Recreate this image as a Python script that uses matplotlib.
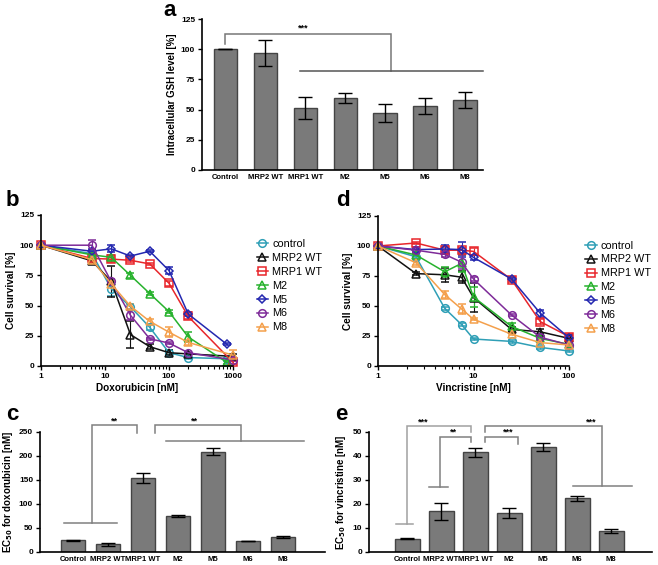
import numpy as np
import matplotlib.pyplot as plt
from matplotlib.ticker import FuncFormatter, LogLocator, NullFormatter

plt.rcParams["font.family"] = ["Liberation Sans", "DejaVu Sans"]
plt.rcParams["mathtext.default"] = "bf"
plt.rcParams["axes.linewidth"] = 1.2

# ---- data ----
groups = ["Control", "MRP2 WT", "MRP1 WT", "M2", "M5", "M6", "M8"]

gsh = [100, 97, 51.5, 59.5, 47.5, 53, 58]
gsh_err = [0, 10.5, 9, 4, 7.5, 7, 6.5]

ec50_doxo = [24, 16, 154, 75, 209, 23, 31]
ec50_doxo_err = [0.5, 3, 10, 2.5, 7, 0.8, 2]

ec50_vinc = [5.5, 17, 41.5, 16.3, 43.8, 22.3, 8.7]
ec50_vinc_err = [0.2, 3.5, 2, 2, 1.8, 1, 0.8]

series = ["control", "MRP2 WT", "MRP1 WT", "M2", "M5", "M6", "M8"]
colors = ["#2f9fb6", "#111111", "#e8262b", "#27b22d", "#2428b0", "#7e2b99", "#f4a04c"]
markers = ["o", "^", "s", "^", "D", "o", "^"]

doxo_800 = [1, 6.25, 12.5, 25, 50, 100, 200, 800]
doxo_1000 = [1, 6.25, 12.5, 25, 50, 100, 200, 1000]
doxo_x = [doxo_800, doxo_1000, doxo_1000, doxo_800, doxo_800, doxo_1000, doxo_1000]
doxo_y = [
    [100, 93, 64, 49, 32, 11, 7, 6],
    [100, 87, 70, 26, 16, 11, 10, 8],
    [100, 89, 88.5, 87.5, 84.5, 68.5, 41, 3],
    [100, 92, 90, 75, 60, 45, 24, 3],
    [100, 95, 97, 91, 95, 79, 43, 18],
    [100, 100, 70, 42, 22.5, 19, 11, 5],
    [100, 88, 68, 49.5, 37, 28, 19.5, 9],
]
doxo_err = [
    [0, 2, 6, 2, 2, 2, 1, 1],
    [0, 2, 13, 11, 2, 2, 1, 2],
    [0, 2, 2, 1, 1, 2, 2, 1],
    [0, 2, 2, 2, 1, 1, 4, 1],
    [0, 2, 3, 1, 1, 3, 2, 1],
    [0, 4, 2, 4, 1, 1, 1, 1],
    [0, 3, 2, 2, 2, 4, 2, 4],
]

vinc_x = [1, 2.5, 5, 7.5, 10, 25, 50, 100]
vinc_y = [
    [100, 91, 48, 34.5, 22.5, 20.5, 15.5, 12.5],
    [100, 77, 76, 74, 57, 30.5, 28.5, 23],
    [100, 102.5, 96.5, 96.5, 95.5, 72, 37, 24.5],
    [100, 92.5, 78.5, 85.5, 57.5, 33, 23, 18],
    [100, 97, 97.5, 97, 90.5, 72.5, 44, 23.5],
    [100, 96.5, 93, 86.5, 72.5, 42.5, 24, 17.5],
    [100, 86, 59.5, 47.5, 39, 26.5, 19.5, 17.5],
]
vinc_err = [
    [0, 1, 1, 1, 1, 1, 1, 1],
    [0, 1, 6, 5, 12, 2, 2, 3],
    [0, 1, 3, 2, 3, 2, 2, 2],
    [0, 1, 4, 7, 8, 3, 2, 2],
    [0, 2, 3, 6, 2, 1, 3, 2],
    [0, 2, 2, 6, 2, 1, 2, 2],
    [0, 2, 3, 4, 1, 1, 1, 1],
]

W, H = 658, 565
fig = plt.figure(figsize=(W / 100, H / 100), dpi=100, facecolor="white")


def add_ax(l, r, t, b):
    return fig.add_axes([l / W, 1 - b / H, (r - l) / W, (b - t) / H])


def bold_ticks(ax):
    for lab in ax.get_xticklabels() + ax.get_yticklabels():
        lab.set_fontweight("bold")


def style(ax):
    ax.spines["top"].set_visible(False)
    ax.spines["right"].set_visible(False)
    ax.tick_params(labelsize=6, width=1, length=3, pad=2)


def bar_panel(ax, vals, errs, width, xlim, ylabel, yticks):
    x = np.arange(len(groups))
    ax.bar(x, vals, width=width, color="#7a7a7a", edgecolor="#444444", lw=1)
    ax.errorbar(x, vals, yerr=errs, fmt="none", ecolor="black", elinewidth=1,
                capsize=5, capthick=1)
    ax.set_xticks(x)
    ax.set_xticklabels(groups)
    ax.set_xlim(*xlim)
    ax.set_ylim(yticks[0], yticks[-1])
    ax.set_yticks(yticks)
    ax.set_ylabel(ylabel, fontsize=7, fontweight="bold", labelpad=3)
    style(ax)
    ax.tick_params(axis="x", length=0, pad=3, labelsize=5.5)
    bold_ticks(ax)


def line(ax, xs, ys, c="#808080"):
    ax.plot(xs, ys, color=c, lw=1.1, clip_on=False, solid_joinstyle="miter")


def star(ax, x, y, s):
    ax.text(x, y, s, ha="center", va="center", fontsize=6.5, fontweight="bold", clip_on=False)


# ---- panel a ----
ax = add_ax(202, 483, 19, 170)
bar_panel(ax, gsh, gsh_err, 0.58, (-0.58, 6.45), "Intracellular GSH level [%]",
          [0, 25, 50, 75, 100, 125])
line(ax, [0, 0, 4.14, 4.14], [104, 112.3, 112.3, 82], "#777777")
line(ax, [1.86, 6.46], [82, 82], "#555555")
star(ax, 1.94, 117.5, "***")

# ---- panel c ----
ax = add_ax(40, 325, 432, 552)
bar_panel(ax, ec50_doxo, ec50_doxo_err, 0.67, (-0.94, 7.2), "EC$_{50}$ for doxorubicin [nM]",
          [0, 50, 100, 150, 200, 250])
line(ax, [-0.26, 1.26], [60, 60])
line(ax, [0.54, 0.54, 1.83, 1.83], [60, 264, 264, 247])
line(ax, [2.34, 2.34, 4.8, 4.8], [247, 264, 264, 231])
line(ax, [2.66, 6.6], [231, 231])
star(ax, 1.2, 273, "**")
star(ax, 3.46, 273, "**")

# ---- panel e ----
ax = add_ax(369, 652, 432, 552)
bar_panel(ax, ec50_vinc, ec50_vinc_err, 0.73, (-1.12, 7.2), "EC$_{50}$ for vincristine [nM]",
          [0, 10, 20, 30, 40, 50])
line(ax, [-0.32, 0.17], [11.5, 11.5], "#a0a0a0")
line(ax, [0, 0, 1.87, 1.87], [11.5, 52.6, 52.6, 50], "#a0a0a0")
line(ax, [0.65, 1.2], [27.2, 27.2])
line(ax, [0.97, 0.97, 1.87, 1.87], [27.2, 47.8, 47.8, 46])
line(ax, [2.28, 2.28, 3.26, 3.26], [46, 47.8, 47.8, 45])
line(ax, [2.28, 2.28, 5.73, 5.73], [50, 52.6, 52.6, 27.5])
line(ax, [4.88, 6.6], [27.5, 27.5])
star(ax, 0.48, 54, "***")
star(ax, 1.35, 49.9, "**")
star(ax, 2.96, 49.9, "***")
star(ax, 5.42, 54, "***")


# ---- curve panels ----
def curve_panel(ax, xs_list, ys_list, errs_list, xlim, xlabel, legend_anchor):
    for xs, ys, es, c, m, name in zip(xs_list, ys_list, errs_list, colors, markers, series):
        ms = 4.5 if m == "D" else 5.5
        ax.errorbar(xs, ys, yerr=es, color=c, lw=1.1, marker=m, ms=ms, mfc="none",
                    mec=c, mew=1.1, capsize=3, elinewidth=0.8, label=name, clip_on=False)
    ax.set_xscale("log")
    ax.set_xlim(*xlim)
    ax.set_ylim(0, 125)
    ax.set_yticks([0, 25, 50, 75, 100, 125])
    ax.xaxis.set_major_formatter(FuncFormatter(lambda v, p: f"{v:g}"))
    ax.xaxis.set_minor_locator(LogLocator(base=10, subs=np.arange(2, 10)))
    ax.xaxis.set_minor_formatter(NullFormatter())
    ax.set_xlabel(xlabel, fontsize=7.2, fontweight="bold", labelpad=2)
    ax.set_ylabel("Cell survival [%]", fontsize=7.2, fontweight="bold", labelpad=3)
    style(ax)
    ax.tick_params(axis="x", which="minor", length=2, width=0.8)
    bold_ticks(ax)
    h, l = ax.get_legend_handles_labels()
    h = [hh[0] for hh in h]
    ax.legend(h, l, loc="upper left", bbox_to_anchor=legend_anchor, frameon=False,
              fontsize=7.8, handlelength=1.1, labelspacing=0.36, borderaxespad=0,
              handletextpad=0.35)


ax = add_ax(41, 233, 215, 366)
curve_panel(ax, doxo_x, doxo_y, doxo_err, (1, 1000), "Doxorubicin [nM]", (1.1, 0.87))

ax = add_ax(378, 569, 216, 366)
curve_panel(ax, [vinc_x] * 7, vinc_y, vinc_err, (1, 100), "Vincristine [nM]", (1.06, 0.865))

# panel letters
for txt, x, y in [("a", 163, 11), ("b", 6, 200), ("d", 336, 200), ("c", 6, 414), ("e", 335, 414)]:
    fig.text(x / W, 1 - y / H, txt, fontsize=16, fontweight="bold", va="center", ha="left")

fig.savefig("out.png", dpi=100, facecolor="white")
